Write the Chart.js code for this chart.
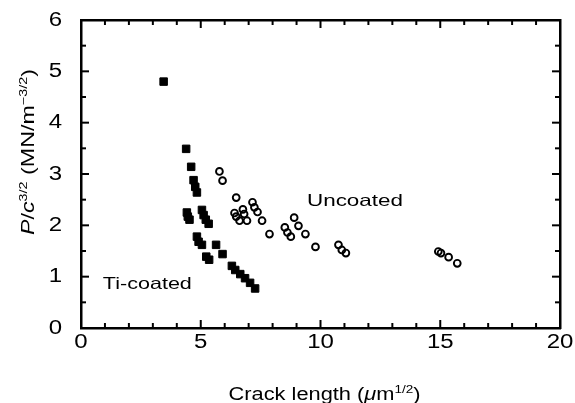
<!DOCTYPE html>
<html>
<head>
<meta charset="utf-8">
<script src="https://cdn.jsdelivr.net/npm/chart.js@4/dist/chart.umd.min.js"></script>
<style>
  html, body { margin: 0; padding: 0; background: #fff; }
  canvas { display: block; }
</style>
</head>
<body>
<canvas id="crackChart" width="575" height="403"></canvas>
<script>
// Ti-coated specimens (filled squares)
const tiX = [3.45, 4.39, 4.60, 4.70, 4.77, 4.84, 4.42, 4.46, 4.53, 5.05, 5.12, 5.21, 5.33,
  4.84, 4.91, 5.05, 5.23, 5.35, 5.64, 5.91, 6.30, 6.44, 6.65, 6.85, 7.06, 7.27];
const tiY = [4.80, 3.49, 3.14, 2.88, 2.75, 2.64, 2.25, 2.17, 2.11, 2.30, 2.20, 2.11, 2.03,
  1.78, 1.68, 1.62, 1.39, 1.33, 1.62, 1.44, 1.21, 1.13, 1.05, 0.97, 0.88, 0.77];

// Uncoated specimens (open circles)
const uncX = [5.78, 5.91, 6.48, 6.41, 6.48, 6.62, 6.76, 6.81, 6.93, 7.16, 7.24, 7.37, 7.56, 7.87,
  8.51, 8.62, 8.76, 8.90, 9.08, 9.37, 9.79, 10.75, 10.89, 11.06, 14.92, 15.03, 15.35, 15.71];
const uncY = [3.05, 2.87, 2.54, 2.24, 2.17, 2.09, 2.31, 2.22, 2.09, 2.45, 2.35, 2.26, 2.09, 1.83,
  1.96, 1.86, 1.78, 2.15, 1.99, 1.83, 1.58, 1.62, 1.52, 1.46, 1.49, 1.46, 1.38, 1.26];

const xTicks = [0, 5, 10, 15, 20];
const yTicks = [0, 1, 2, 3, 4, 5, 6];
const seriesNames = ["Ti-coated", "Uncoated"];

const toPoints = (xs, ys) => xs.map((x, i) => ({ x: x, y: ys[i] }));

const FONT = '"Liberation Sans", Arial, sans-serif';

// text pieces (italic / superscript) centred on 0, stretched to the width of the original
function drawRich(ctx, parts, size, targetWidth) {
  const fontFor = (p) => (p.it ? "italic " : "") + (p.sup ? size * 0.62 : size) + "px " + FONT;
  let w = 0;
  parts.forEach((p) => { ctx.font = fontFor(p); w += ctx.measureText(p.t).width; });
  const sx = targetWidth ? targetWidth / w : 1;
  ctx.scale(sx, 1);
  let x = -w / 2;
  ctx.textAlign = "left";
  ctx.textBaseline = "alphabetic";
  parts.forEach((p) => {
    ctx.font = fontFor(p);
    ctx.fillText(p.t, x, p.sup ? -size * 0.42 : 0);
    x += ctx.measureText(p.t).width;
  });
}

const framePlugin = {
  id: "frame",
  afterDraw(chart) {
    const ctx = chart.ctx;
    const xs = chart.scales.x;
    const ys = chart.scales.y;
    const a = chart.chartArea;
    ctx.save();
    ctx.fillStyle = "#000";
    ctx.strokeStyle = "#000";

    // inward ticks, one small path each
    const L = a.left, R = a.right, T = a.top, B = a.bottom;
    ctx.lineWidth = 2;
    const tick = (x1, y1, x2, y2) => {
      ctx.beginPath();
      ctx.moveTo(x1, y1);
      ctx.lineTo(x2, y2);
      ctx.stroke();
    };
    for (let v = 1; v < 20; v += 1) {
      const px = xs.getPixelForValue(v);
      const len = v % 5 === 0 ? 8 : 5;
      tick(px, B, px, B - len);
      tick(px, T, px, T + len);
    }
    for (let v = 0.5; v < 6; v += 0.5) {
      const py = ys.getPixelForValue(v);
      const len = v % 1 === 0 ? 8 : 5;
      tick(L, py, L + len, py);
      tick(R, py, R - len, py);
    }

    // tick labels
    ctx.font = "20px " + FONT;
    xTicks.forEach((v) => {
      ctx.save();
      ctx.translate(xs.getPixelForValue(v), a.bottom + 14);
      ctx.scale(1.2, 1);
      ctx.textAlign = "center";
      ctx.textBaseline = "middle";
      ctx.fillText(String(v), 0, 0);
      ctx.restore();
    });
    yTicks.forEach((v) => {
      ctx.save();
      ctx.translate(a.left - 19, ys.getPixelForValue(v));
      ctx.scale(1.2, 1);
      ctx.textAlign = "right";
      ctx.textBaseline = "middle";
      ctx.fillText(String(v), 0, 0);
      ctx.restore();
    });

    // x axis title
    ctx.save();
    ctx.translate((a.left + a.right) / 2 + 4, 400);
    drawRich(ctx, [
      { t: "Crack length (" },
      { t: "\u03bc", it: true },
      { t: "m" },
      { t: "1/2", sup: true },
      { t: ")" },
    ], 17.5, 192);
    ctx.restore();

    // y axis title
    ctx.save();
    ctx.translate(34, 152);
    ctx.rotate(-Math.PI / 2);
    drawRich(ctx, [
      { t: "P", it: true },
      { t: "/" },
      { t: "c", it: true },
      { t: "3/2", sup: true },
      { t: " (MN/m" },
      { t: "\u22123/2", sup: true },
      { t: ")" },
    ], 17.5, 166);
    ctx.restore();

    // series labels inside the plot
    ctx.save();
    ctx.translate(xs.getPixelForValue(2.77), ys.getPixelForValue(0.88) + 6);
    drawRich(ctx, [{ t: seriesNames[0] }], 16.5, 89);
    ctx.restore();

    ctx.save();
    ctx.translate(xs.getPixelForValue(11.44), ys.getPixelForValue(2.5) + 6);
    drawRich(ctx, [{ t: seriesNames[1] }], 16.5, 96);
    ctx.restore();

    ctx.restore();
  },
};

// frame edges come from the library's own axis borders (no labels, zero thickness)
const edge = (axis, position) => ({
  type: "linear",
  axis: axis,
  position: position,
  min: axis === "x" ? 0 : 0,
  max: axis === "x" ? 20 : 6,
  display: true,
  border: { display: true, color: "#000", width: 2.5 },
  grid: { display: true, drawOnChartArea: false, drawTicks: false },
  ticks: { display: false },
  afterFit(scale) {
    if (axis === "x") scale.height = 0; else scale.width = 0;
  },
});

new Chart(document.getElementById("crackChart"), {
  type: "scatter",
  data: {
    datasets: [
      {
        label: seriesNames[0],
        data: toPoints(tiX, tiY),
        pointStyle: "rect",
        pointRadius: 5.3,
        borderWidth: 1,
        borderColor: "#000",
        backgroundColor: "#000",
      },
      {
        label: seriesNames[1],
        data: toPoints(uncX, uncY),
        pointStyle: "circle",
        pointRadius: 3.4,
        borderWidth: 1.9,
        borderColor: "#000",
        backgroundColor: "rgba(0,0,0,0)",
      },
    ],
  },
  options: {
    responsive: false,
    animation: false,
    layout: { padding: { left: 81, right: 15, top: 20, bottom: 75 } },
    plugins: { legend: { display: false }, tooltip: { enabled: false } },
    scales: {
      x: edge("x", "bottom"),
      y: edge("y", "left"),
      xTop: edge("x", "top"),
      yRight: edge("y", "right"),
    },
  },
  plugins: [framePlugin],
});
</script>
</body>
</html>
